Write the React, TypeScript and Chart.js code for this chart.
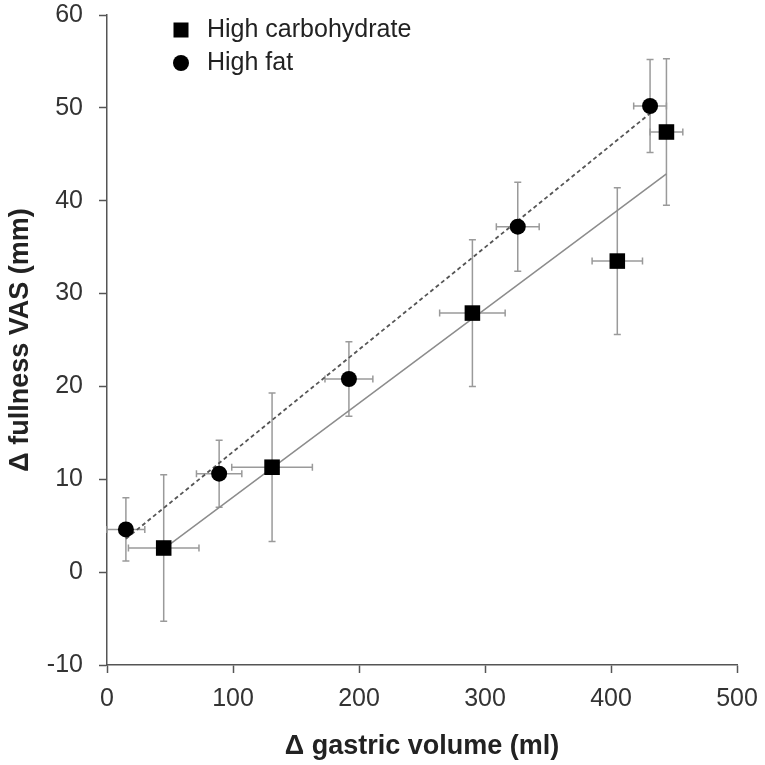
import React, { useEffect, useRef } from "react";
import { Chart, registerables } from "chart.js";

Chart.register(...registerables);

// High carbohydrate (squares)
const hcX = [45, 131, 290, 405, 444];
const hcY = [2.6, 11.3, 27.9, 33.5, 47.4];
const hcXErr = [28, 32, 26, 20, 13];
const hcYErr = [7.9, 8.0, 7.9, 7.9, 7.9];

// High fat (circles)
const hfX = [15, 89, 192, 326, 431];
const hfY = [4.6, 10.6, 20.8, 37.2, 50.2];
const hfXErr = [15, 18, 19, 17, 13];
const hfYErr = [3.4, 3.6, 4.0, 4.8, 5.0];

// Regression lines (endpoints)
const hcFitX = [45, 444];
const hcFitY = [2.5, 42.9];
const hfFitX = [15, 431];
const hfFitY = [3.6, 49.4];

const legendLabels = ["High carbohydrate", "High fat"];
const xTitle = "Δ gastric volume (ml)";
const yTitle = "Δ fullness VAS (mm)";

const FONT = "'Liberation Sans', Arial, sans-serif";

const toPts = (xs: number[], ys: number[]) => xs.map((x, i) => ({ x, y: ys[i] }));

const errorBarPlugin = {
  id: "errorBars",
  beforeDatasetsDraw(chart: any) {
    const { ctx } = chart;
    const xs = chart.scales.x;
    const ys = chart.scales.y;
    const groups = [
      { x: hcX, y: hcY, ex: hcXErr, ey: hcYErr },
      { x: hfX, y: hfY, ex: hfXErr, ey: hfYErr },
    ];
    const cap = 3.5;
    ctx.save();
    ctx.strokeStyle = "#9a9a9a";
    ctx.lineWidth = 1.5;
    groups.forEach((g) => {
      g.x.forEach((xv, i) => {
        const px = xs.getPixelForValue(xv);
        const py = ys.getPixelForValue(g.y[i]);
        const yt = ys.getPixelForValue(g.y[i] + g.ey[i]);
        const yb = ys.getPixelForValue(g.y[i] - g.ey[i]);
        const xl = xs.getPixelForValue(xv - g.ex[i]);
        const xr = xs.getPixelForValue(xv + g.ex[i]);
        ctx.beginPath();
        ctx.moveTo(px, yt);
        ctx.lineTo(px, yb);
        ctx.moveTo(px - cap, yt);
        ctx.lineTo(px + cap, yt);
        ctx.moveTo(px - cap, yb);
        ctx.lineTo(px + cap, yb);
        ctx.moveTo(xl, py);
        ctx.lineTo(xr, py);
        ctx.moveTo(xl, py - cap);
        ctx.lineTo(xl, py + cap);
        ctx.moveTo(xr, py - cap);
        ctx.lineTo(xr, py + cap);
        ctx.stroke();
      });
    });
    ctx.restore();
  },
};

const legendPlugin = {
  id: "customLegend",
  afterDraw(chart: any) {
    const { ctx, chartArea } = chart;
    const mx = chartArea.left + 74;
    const tx = chartArea.left + 100;
    const rows = [chartArea.top + 15, chartArea.top + 48];
    ctx.save();
    ctx.fillStyle = "#000";
    ctx.fillRect(mx - 7.5, rows[0] - 7.5, 15, 15);
    ctx.beginPath();
    ctx.arc(mx, rows[1], 8, 0, Math.PI * 2);
    ctx.fill();
    ctx.fillStyle = "#222";
    ctx.font = `25px ${FONT}`;
    ctx.textBaseline = "middle";
    ctx.textAlign = "left";
    legendLabels.forEach((t, i) => ctx.fillText(t, tx, rows[i]));
    ctx.restore();
  },
};

export default function App() {
  const ref = useRef<HTMLCanvasElement | null>(null);
  useEffect(() => {
    if (!ref.current) return;
    const chart = new Chart(ref.current, {
      type: "scatter",
      data: {
        datasets: [
          {
            label: legendLabels[0],
            data: toPts(hcX, hcY),
            pointStyle: "rect",
            pointRadius: 11,
            backgroundColor: "#000",
            borderColor: "#000",
            borderWidth: 0,
            order: 0,
          },
          {
            label: legendLabels[1],
            data: toPts(hfX, hfY),
            pointStyle: "circle",
            pointRadius: 8,
            backgroundColor: "#000",
            borderColor: "#000",
            borderWidth: 0,
            order: 0,
          },
          {
            type: "line",
            label: "fit HC",
            data: toPts(hcFitX, hcFitY),
            borderColor: "#8c8c8c",
            borderWidth: 1.5,
            pointRadius: 0,
            showLine: true,
            fill: false,
            order: 2,
          } as any,
          {
            type: "line",
            label: "fit HF",
            data: toPts(hfFitX, hfFitY),
            borderColor: "#555",
            borderWidth: 1.8,
            borderDash: [4, 3],
            pointRadius: 0,
            showLine: true,
            fill: false,
            order: 2,
          } as any,
        ],
      },
      options: {
        animation: false,
        responsive: false,
        devicePixelRatio: 1,
        layout: { padding: { top: 15, right: 28, left: 0, bottom: 0 } },
        plugins: { legend: { display: false }, tooltip: { enabled: false } },
        scales: {
          x: {
            type: "linear",
            min: 0,
            max: 500,
            afterFit: (s: any) => {
              s.height = 100;
              s.paddingLeft = 0;
              s.paddingRight = 0;
            },
            ticks: {
              stepSize: 100,
              padding: 11,
              color: "#333",
              font: { family: FONT, size: 25 },
              maxRotation: 0,
            },
            grid: {
              drawOnChartArea: false,
              drawTicks: true,
              tickLength: 8,
              tickColor: "#555",
              tickWidth: 1.5,
            },
            border: { display: true, color: "#555", width: 1.5 },
            title: {
              display: true,
              text: xTitle,
              color: "#222",
              font: { family: FONT, size: 27, weight: "bold" },
              padding: { top: 0, bottom: 2 },
            },
          },
          y: {
            type: "linear",
            min: -10,
            max: 60,
            afterFit: (s: any) => {
              s.width = 107;
              s.paddingTop = 0;
              s.paddingBottom = 0;
            },
            ticks: {
              stepSize: 10,
              padding: 16,
              color: "#333",
              font: { family: FONT, size: 25 },
            },
            grid: {
              drawOnChartArea: false,
              drawTicks: true,
              tickLength: 8,
              tickColor: "#555",
              tickWidth: 1.5,
            },
            border: { display: true, color: "#555", width: 1.5 },
            title: {
              display: true,
              text: yTitle,
              color: "#222",
              font: { family: FONT, size: 27, weight: "bold" },
              padding: { top: 4, bottom: 0 },
            },
          },
        },
      },
      plugins: [errorBarPlugin, legendPlugin],
    } as any);
    return () => chart.destroy();
  }, []);
  return (
    <div style={{ position: "absolute", left: 0, top: 0, width: 765, height: 765, background: "#fff" }}>
      <canvas ref={ref} width={765} height={765} />
    </div>
  );
}
